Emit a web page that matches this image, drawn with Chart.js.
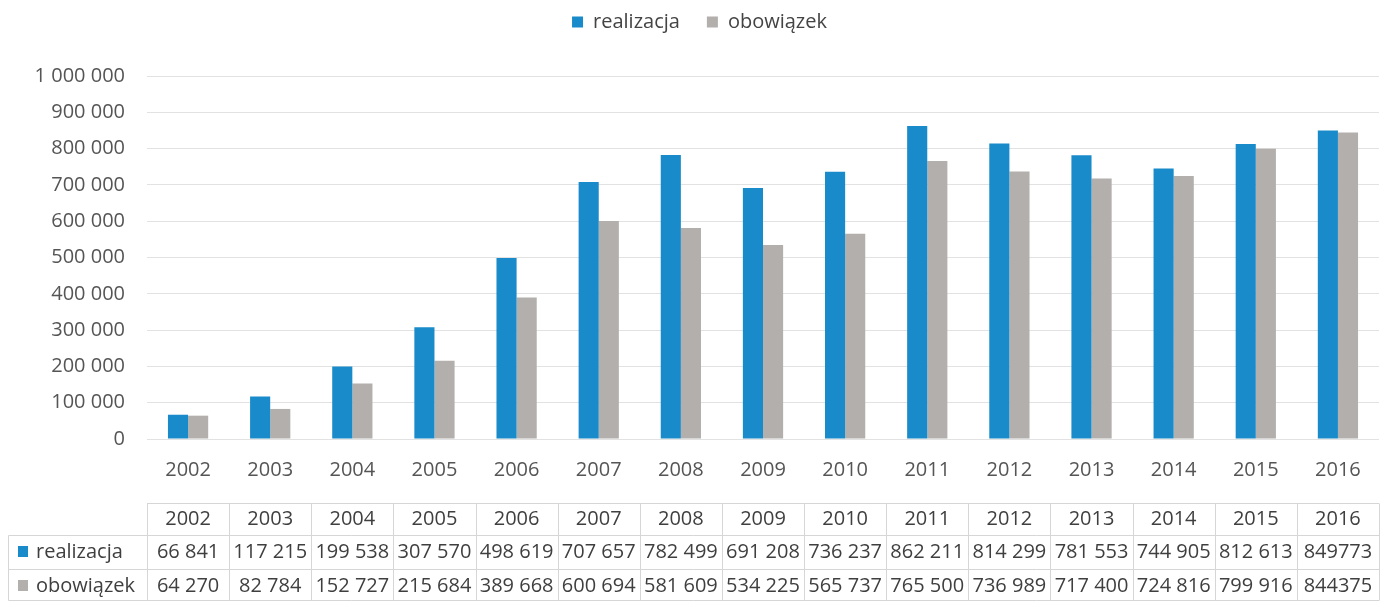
<!DOCTYPE html>
<html>
<head>
<meta charset="utf-8">
<script src="https://cdn.jsdelivr.net/npm/chart.js@4.4.0/dist/chart.umd.min.js"></script>
<style>
html,body{margin:0;padding:0;background:#ffffff;}
#wrap{position:relative;width:1388px;height:601px;}
</style>
</head>
<body>
<div id="wrap"><canvas id="c" width="1388" height="601"></canvas></div>
<script>
const years = ['2002','2003','2004','2005','2006','2007','2008','2009','2010','2011','2012','2013','2014','2015','2016'];
const realizacja = [66841,117215,199538,307570,498619,707657,782499,691208,736237,862211,814299,781553,744905,812613,849773];
const obowiazek = [64270,82784,152727,215684,389668,600694,581609,534225,565737,765500,736989,717400,724816,799916,844375];
const realizacjaLabels = ['66 841','117 215','199 538','307 570','498 619','707 657','782 499','691 208','736 237','862 211','814 299','781 553','744 905','812 613','849773'];
const obowiazekLabels = ['64 270','82 784','152 727','215 684','389 668','600 694','581 609','534 225','565 737','765 500','736 989','717 400','724 816','799 916','844375'];
const seriesNames = ['realizacja','obowiązek'];

const BLUE = '#1a8bca';
const GRAY = '#b2afad';
const FONT = '"Open Sans", "Noto Sans", sans-serif';

function fmt(v){ return String(v).replace(/\B(?=(\d{3})+(?!\d))/g,' '); }

const legendSpacer = {
  id:'legendSpacer',
  beforeInit(chart){
    const orig = chart.legend.fit;
    chart.legend.fit = function(){ orig.call(this); this.height = 91; };
  }
};

const dataTable = {
  id:'dataTable',
  afterDraw(chart){
    const ctx = chart.ctx, x = chart.scales.x;
    const n = years.length, cw = x.width / n;
    const L = x.left, R = x.right;
    const yTop = 503.5, y1 = 535.5, y2 = 569.5, yB = 600.5, xL = 8.5;
    ctx.save();
    ctx.strokeStyle = '#d6d6d6'; ctx.lineWidth = 1;
    ctx.beginPath();
    ctx.moveTo(L, yTop); ctx.lineTo(R, yTop);
    ctx.moveTo(xL, y1); ctx.lineTo(R, y1);
    ctx.moveTo(xL, y2); ctx.lineTo(R, y2);
    ctx.moveTo(xL, yB); ctx.lineTo(R, yB);
    for(let i=0;i<=n;i++){
      const xx = Math.round(L + i*cw) + 0.5;
      ctx.moveTo(xx, yTop); ctx.lineTo(xx, yB);
    }
    ctx.moveTo(xL, y1); ctx.lineTo(xL, yB);
    ctx.stroke();
    ctx.font = '20px ' + FONT;
    ctx.fillStyle = '#3f3f3f';
    ctx.textAlign = 'center'; ctx.textBaseline = 'middle';
    for(let i=0;i<n;i++){
      const cx = x.getPixelForValue(i);
      ctx.fillText(years[i], cx, 519);
      ctx.fillText(realizacjaLabels[i], cx, 552);
      ctx.fillText(obowiazekLabels[i], cx, 586);
    }
    ctx.textAlign = 'left';
    ctx.fillStyle = BLUE; ctx.fillRect(18, 546, 10, 11);
    ctx.fillStyle = GRAY; ctx.fillRect(18, 580, 10, 11);
    ctx.fillStyle = '#3f3f3f';
    ctx.fillText(seriesNames[0], 36, 552);
    ctx.fillText(seriesNames[1], 36, 586);
    ctx.restore();
  }
};

new Chart(document.getElementById('c'), {
  type:'bar',
  data:{
    labels: years,
    datasets:[
      {label: seriesNames[0], data: realizacja, backgroundColor: BLUE, borderWidth:0},
      {label: seriesNames[1], data: obowiazek, backgroundColor: GRAY, borderWidth:0}
    ]
  },
  options:{
    responsive:false,
    animation:false,
    layout:{padding:{left:20,right:9,top:-15,bottom:0}},
    datasets:{bar:{categoryPercentage:0.49, barPercentage:1.0}},
    plugins:{
      legend:{
        position:'top',
        labels:{font:{family:FONT,size:20}, color:'#444', boxWidth:11, boxHeight:11, padding:27}
      },
      tooltip:{enabled:false}
    },
    scales:{
      x:{
        grid:{display:false, drawTicks:false},
        border:{display:false},
        ticks:{font:{family:FONT,size:20}, color:'#555', padding:19, maxRotation:0},
        afterFit(s){ s.height = 162; }
      },
      y:{
        min:0, max:1000000,
        grid:{color:'#e2e2e2', drawTicks:false},
        border:{display:false},
        ticks:{stepSize:100000, font:{family:FONT,size:20}, color:'#555', padding:22,
               callback:(v)=>fmt(v)},
        afterFit(s){ s.width = 127; }
      }
    }
  },
  plugins:[legendSpacer, dataTable]
});
</script>
</body>
</html>
